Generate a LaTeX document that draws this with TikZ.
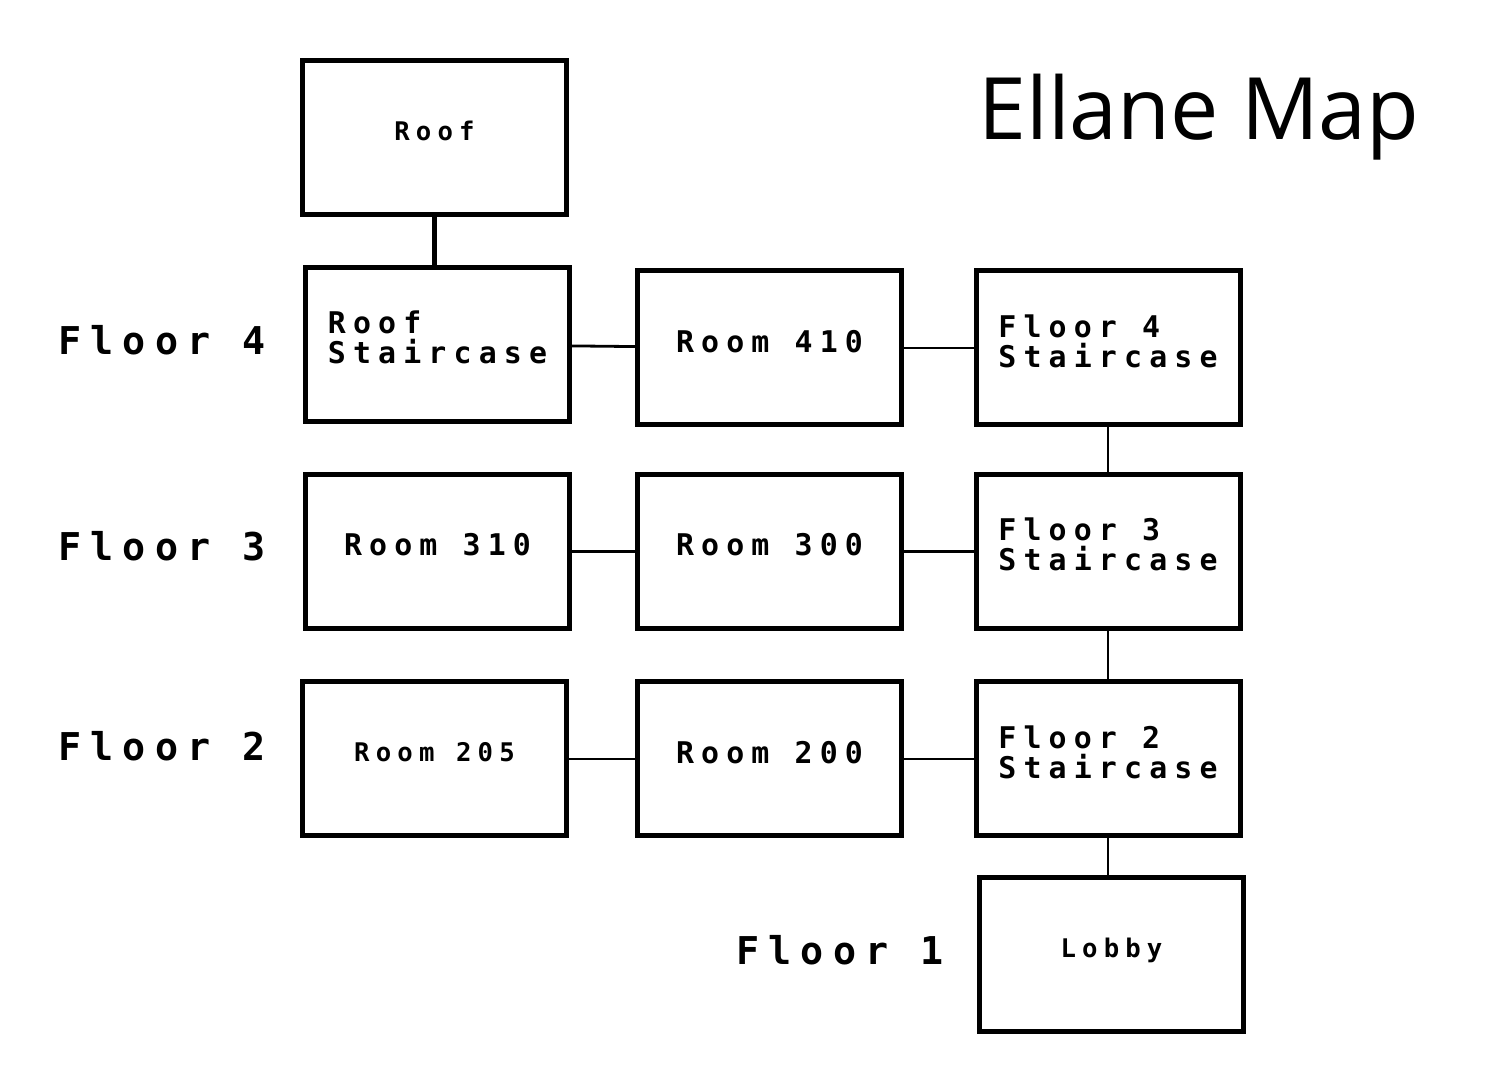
\documentclass[tikz,border=0pt]{standalone}
\usepackage{fontspec}
\newfontfamily\pixfont[LetterSpace=24]{DejaVu Sans Mono}
\newfontfamily\titlefont{Open Sans}

\begin{document}
\begin{tikzpicture}[
        every node/.style = {
            align=left,
            font=\pixfont\bfseries\fontsize{8.5}{8.6}\selectfont
        },
        room/.style = {draw, line width=0.05cm, rectangle, text depth=0.14cm, minimum width=2.64cm, minimum height=1.54cm},
        small/.style = {font=\pixfont\bfseries\fontsize{7.3}{8}\selectfont},
        floor/.style = {anchor=west, font=\pixfont\bfseries\fontsize{10.9}{11}\selectfont},
        hall/.style = {-, line width=0.028cm},
        stairs/.style = {-, line width=0.05cm}
    ]
    \useasboundingbox (0,0) rectangle (15,10.71);

    % Title
    \node[anchor=base west, font=\titlefont\fontsize{24.5}{26}\selectfont] (title) at (9.66, 9.31) {Ellane Map};

    % Roof
    \node[room, small] (Roof) at (4.345, 9.335) {Roof};

    % Floor 4
    \node[floor] (F4) at (0.46, 7.31) {Floor 4};
    \node[room] (RoofStair) at (4.375, 7.265) {Roof\\Staircase};
    \node[room] (R410) at (7.695, 7.23) {Room 410};
    \node[room] (F4Stair) at (11.08, 7.23) {Floor 4\\Staircase};

    % Floor 3
    \node[floor] (F3) at (0.46, 5.25) {Floor 3};
    \node[room] (R310) at (4.375, 5.195) {Room 310};
    \node[room] (R300) at (7.695, 5.195) {Room 300};
    \node[room] (F3Stair) at (11.08, 5.195) {Floor 3\\Staircase};

    % Floor 2
    \node[floor] (F2) at (0.46, 3.25) {Floor 2};
    \node[room, small] (R205) at (4.345, 3.12) {Room 205};
    \node[room] (R200) at (7.695, 3.12) {Room 200};
    \node[room] (F2Stair) at (11.08, 3.12) {Floor 2\\Staircase};

    % Floor 1
    \node[floor] (F1) at (7.24, 1.21) {Floor 1};
    \node[room, small] (Lobby) at (11.115, 1.16) {Lobby};

    % Hallways
    \draw[stairs] (Roof.south) -- (Roof.south |- RoofStair.north);
    \draw[hall] (RoofStair) -- (R410);
    \draw[hall] (R410) -- (F4Stair);
    \draw[hall] (R310) -- (R300);
    \draw[hall] (R300) -- (F3Stair);
    \draw[hall] (R205) -- (R200);
    \draw[hall] (R200) -- (F2Stair);

    % Staircases
    \draw[hall] (F4Stair) -- (F3Stair);
    \draw[hall] (F3Stair) -- (F2Stair);
    \draw[hall] (F2Stair) -- (F2Stair |- Lobby.north);

\end{tikzpicture}
\end{document}
